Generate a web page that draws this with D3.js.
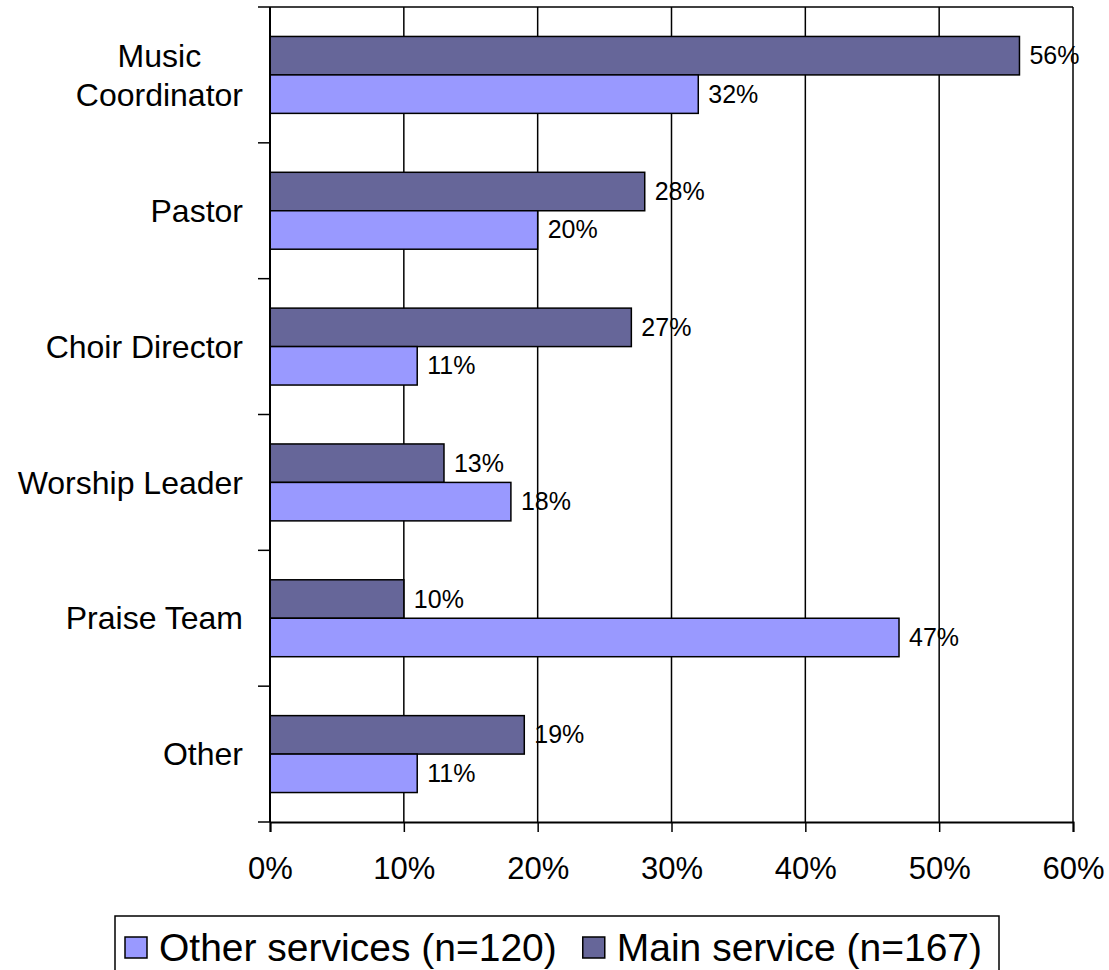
<!DOCTYPE html>
<html>
<head>
<meta charset="utf-8">
<script src="https://cdn.jsdelivr.net/npm/d3@7"></script>
<style>
  html, body { margin: 0; padding: 0; background: #fff; }
  svg { display: block; font-family: "Liberation Sans", Arial, sans-serif; }
</style>
</head>
<body>
<svg id="chart" width="1109" height="970"></svg>
<script>
const categories = ["Music Coordinator", "Pastor", "Choir Director", "Worship Leader", "Praise Team", "Other"];
const mainService = [56, 28, 27, 13, 10, 19];
const otherServices = [32, 20, 11, 18, 47, 11];
const xTicks = [0, 10, 20, 30, 40, 50, 60];
const seriesNames = ["Main service (n=167)", "Other services (n=120)"];
const legendOrder = ["Other services (n=120)", "Main service (n=167)"];
const colors = {"Main service (n=167)": "#666699", "Other services (n=120)": "#9999FF"};

const svg = d3.select("#chart");
const m = {left: 270, right: 1073, top: 7, bottom: 822};

const x = d3.scaleLinear().domain([0, 60]).range([m.left, m.right]);
const y = d3.scaleBand().domain(categories).range([m.top, m.bottom]).padding(0);
const sub = d3.scaleBand().domain(seriesNames).range([0, y.bandwidth()]).paddingInner(0).paddingOuter(0.766);

const rows = categories.map((c, i) => ({cat: c, vals: [
  {s: seriesNames[0], v: mainService[i]},
  {s: seriesNames[1], v: otherServices[i]}
]}));

// gridlines
svg.append("g").selectAll("line").data(xTicks.slice(1)).join("line")
  .attr("x1", d => x(d)).attr("x2", d => x(d))
  .attr("y1", m.top).attr("y2", m.bottom)
  .attr("stroke", "#000").attr("stroke-width", 1.5);
// top frame
svg.append("line").attr("x1", m.left).attr("x2", m.right).attr("y1", m.top).attr("y2", m.top)
  .attr("stroke", "#000").attr("stroke-width", 1.5);

// bars
const g = svg.append("g").selectAll("g").data(rows).join("g")
  .attr("transform", d => `translate(0,${y(d.cat)})`);
g.selectAll("rect").data(d => d.vals).join("rect")
  .attr("x", x(0)).attr("y", d => sub(d.s))
  .attr("width", d => x(d.v) - x(0)).attr("height", sub.bandwidth())
  .attr("fill", d => colors[d.s]).attr("stroke", "#000").attr("stroke-width", 1.5);
g.selectAll("text").data(d => d.vals).join("text")
  .attr("x", d => x(d.v) + 10).attr("y", d => sub(d.s) + sub.bandwidth() / 2)
  .attr("dy", "0.34em").attr("font-size", 25).attr("fill", "#000")
  .text(d => d.v + "%");

// x axis
const xAxis = d3.axisBottom(x).tickValues(xTicks).tickFormat(d => d + "%").tickSize(10).tickPadding(25);
const xg = svg.append("g").attr("transform", `translate(0,${m.bottom})`).call(xAxis);
xg.select(".domain").attr("stroke", "#000").attr("stroke-width", 2);
xg.selectAll(".tick line").attr("stroke", "#000").attr("stroke-width", 1.5);
xg.selectAll(".tick text").attr("font-size", 31).attr("fill", "#000").attr("font-family", "Liberation Sans, Arial, sans-serif");

// y axis (ticks at band boundaries)
const bounds = categories.map(c => y(c)).concat([m.bottom]);
svg.append("line").attr("x1", m.left).attr("x2", m.left).attr("y1", m.top).attr("y2", m.bottom)
  .attr("stroke", "#000").attr("stroke-width", 2);
svg.append("g").selectAll("line").data(bounds).join("line")
  .attr("x1", m.left - 12).attr("x2", m.left).attr("y1", d => d).attr("y2", d => d)
  .attr("stroke", "#000").attr("stroke-width", 1.5);

// category labels
const labelLines = {"Music Coordinator": ["Music", "Coordinator"]};
const labelRight = 243;
const cl = svg.append("g").selectAll("text").data(categories).join("text")
  .attr("y", d => y(d) + y.bandwidth() / 2)
  .attr("font-size", 32).attr("fill", "#000");
cl.each(function(d) {
  const lines = labelLines[d] || [d];
  const t = d3.select(this);
  if (lines.length === 1) {
    t.attr("x", labelRight).attr("text-anchor", "end").attr("dy", "0.35em").text(d);
  } else {
    // measure widest line, centre all lines over it, right edge at labelRight
    const probe = svg.append("text").attr("font-size", 32);
    const w = d3.max(lines, ln => { probe.text(ln); return probe.node().getComputedTextLength(); });
    probe.remove();
    const cxl = labelRight - w / 2;
    t.attr("text-anchor", "middle");
    lines.forEach((ln, i) => {
      t.append("tspan").attr("x", cxl)
        .attr("dy", i === 0 ? ((-(lines.length - 1) / 2) * 1.22 + 0.35) + "em" : "1.22em")
        .text(ln);
    });
  }
});

// legend
const lg = svg.append("g");
const lgTop = 916, lgLeft = 115, lgRight = 999;
lg.append("rect").attr("x", lgLeft).attr("y", lgTop).attr("width", lgRight - lgLeft).attr("height", 62)
  .attr("fill", "#fff").attr("stroke", "#000").attr("stroke-width", 1.5);
let cx = lgLeft + 10;
legendOrder.forEach((name, i) => {
  lg.append("rect").attr("x", cx).attr("y", 937).attr("width", 22).attr("height", 21)
    .attr("fill", colors[name]).attr("stroke", "#000").attr("stroke-width", 1.5);
  const t = lg.append("text").attr("x", cx + 34).attr("y", 961).attr("font-size", 39).attr("fill", "#000").text(name);
  cx += 34 + t.node().getComputedTextLength() + 26;
});
</script>
</body>
</html>
